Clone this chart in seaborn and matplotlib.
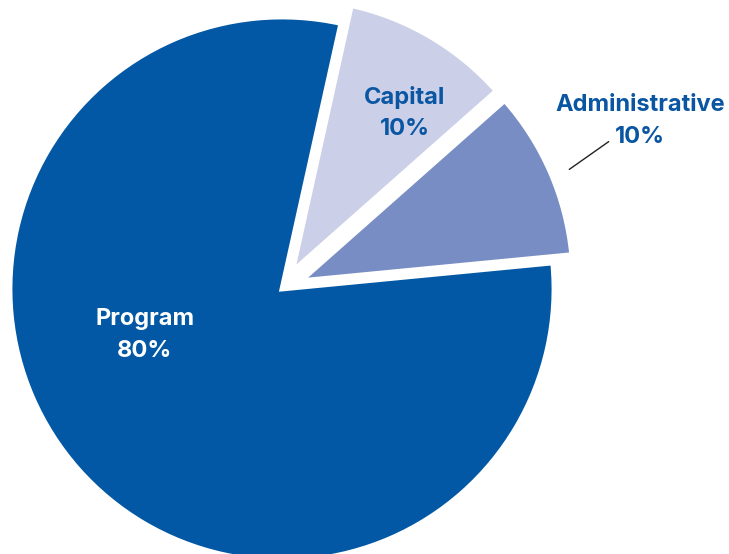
import matplotlib
matplotlib.use("Agg")
import matplotlib.pyplot as plt
import seaborn as sns

# budget split
categories = ["Administrative", "Capital", "Program"]
shares = [10, 10, 80]
explode_by = [0.076, 0.076, 0.0]

sns.set_theme(style="white")
plt.rcParams["font.family"] = ["Inter", "DejaVu Sans"]

colors = ["#788dc4", "#cbcfe8", "#0258a4"]
label_color = "#0a56a2"

# pixel -> data helpers (pie centre at 282, 289 px, radius 272 px)
CX, CY, R = 282, 289, 272


def px(x, y):
    return (x - CX) / R, (CY - y) / R


fig = plt.figure(figsize=(7.29, 5.54), dpi=100)
ax = fig.add_axes([0, 0, 1, 1])

ax.pie(shares, colors=colors, explode=explode_by, startangle=5.5,
       counterclock=True, radius=1,
       wedgeprops={"edgecolor": "white", "linewidth": 3.5})

ax.set_xlim(px(0, 0)[0], px(729, 0)[0])
ax.set_ylim(px(0, 554)[1], px(0, 0)[1])
ax.set_aspect("auto")
ax.axis("off")

text_style = {"fontsize": 17, "fontweight": "bold", "ha": "center",
              "va": "center", "linespacing": 1.55}

label_pos = {"Administrative": (640, 121), "Capital": (405, 113), "Program": (145, 335)}
for cat, share, col in zip(categories, shares, [label_color, label_color, "white"]):
    x, y = px(*label_pos[cat])
    ax.text(x, y, f"{cat}\n{share}%", color=col, **text_style)

# leader line for Administrative
ax.annotate("", xy=px(567, 171), xytext=px(611, 140),
            arrowprops={"arrowstyle": "-", "color": "#222222", "lw": 1})

fig.savefig("out.png", dpi=100)
